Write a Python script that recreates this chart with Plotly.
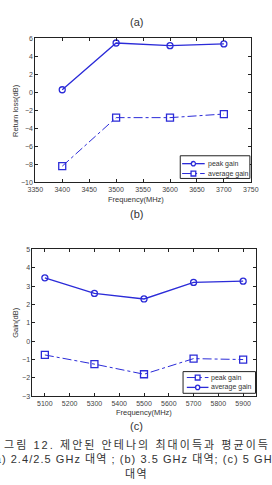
import plotly.graph_objects as go

# Chart (b) data
freq_b = [3400, 3500, 3600, 3700]
peak_b = [0.3, 5.5, 5.2, 5.4]
avg_b = [-8.2, -2.8, -2.8, -2.4]

# Chart (c) data
freq_c = [5100, 5300, 5500, 5700, 5900]
avg_c = [3.45, 2.6, 2.3, 3.2, 3.27]
peak_c = [-0.75, -1.25, -1.8, -0.95, -1.0]

legend_b = ["peak gain", "average gain"]
legend_c = ["peak gain", "average gain"]

blue = "#2b2bd8"
tick_col = "#444444"
W, H = 272, 485

def py(px):
    return 1 - px / H

def pxx(px):
    return px / W

fig = go.Figure()

solid = dict(color=blue, width=1.3)
dashed = dict(color=blue, width=1, dash="dashdot")
circ = dict(symbol="circle-open", size=6, color=blue, line=dict(width=1.3))
sq = dict(symbol="square-open", size=7, color=blue, line=dict(width=1.3))

fig.add_trace(go.Scatter(x=freq_b, y=peak_b, name=legend_b[0], mode="lines+markers",
                         line=solid, marker=circ, xaxis="x", yaxis="y"))
fig.add_trace(go.Scatter(x=freq_b, y=avg_b, name=legend_b[1], mode="lines+markers",
                         line=dashed, marker=sq, xaxis="x", yaxis="y"))
fig.add_trace(go.Scatter(x=freq_c, y=peak_c, name=legend_c[0], mode="lines+markers",
                         line=dashed, marker=sq, xaxis="x2", yaxis="y2"))
fig.add_trace(go.Scatter(x=freq_c, y=avg_c, name=legend_c[1], mode="lines+markers",
                         line=solid, marker=circ, xaxis="x2", yaxis="y2"))

axis_common = dict(showline=True, linecolor="#222222", linewidth=1, mirror="ticks",
                   ticks="inside", ticklen=3, tickcolor="#222222", showgrid=False, zeroline=False,
                   tickfont=dict(family="Liberation Sans, Arial", size=7, color=tick_col))

fig.update_layout(
    width=W, height=H, margin=dict(l=0, r=0, t=0, b=0),
    paper_bgcolor="white", plot_bgcolor="white", showlegend=False,
    xaxis=dict(domain=[pxx(29), pxx(258)], range=[3350, 3750], dtick=50, anchor="y", **axis_common),
    yaxis=dict(domain=[py(181), py(35)], range=[-10, 6], dtick=2, anchor="x", **axis_common),
    xaxis2=dict(domain=[pxx(26), pxx(263)], range=[5050, 5950], dtick=100, anchor="y2", **axis_common),
    yaxis2=dict(domain=[py(398), py(249)], range=[-3, 5], dtick=1, anchor="x2", **axis_common),
)

def ann(text, x, y, size, angle=0, color="#333333", xanchor="center"):
    fig.add_annotation(text=text, x=pxx(x), y=py(y), xref="paper", yref="paper",
                       showarrow=False, textangle=angle, xanchor=xanchor, yanchor="middle",
                       font=dict(family="Liberation Sans, Noto Sans CJK KR", size=size, color=color))

def rect(x0, y0, x1, y1, line_color, fill="white", width=1, dash=None):
    fig.add_shape(type="rect", xref="paper", yref="paper",
                  x0=pxx(x0), x1=pxx(x1), y0=py(y1), y1=py(y0),
                  line=dict(color=line_color, width=width, dash=dash), fillcolor=fill)

def seg(x0, x1, y, style):
    fig.add_shape(type="line", xref="paper", yref="paper",
                  x0=pxx(x0), x1=pxx(x1), y0=py(y), y1=py(y), line=style)

def circle(cx, cy, r):
    fig.add_shape(type="circle", xref="paper", yref="paper",
                  x0=pxx(cx - r), x1=pxx(cx + r), y0=py(cy + r), y1=py(cy - r),
                  line=dict(color=blue, width=1.3), fillcolor="white")

def square(cx, cy, r):
    rect(cx - r, cy - r, cx + r, cy + r, blue, width=1.3)

def legend_box(x0, y0, x1, y1, rows, names, lx0, lx1, tx):
    rect(x0, y0, x1, y1, "#222222")
    for (yy, kind), name in zip(rows, names):
        mx = (lx0 + lx1) / 2
        if kind == "solid":
            seg(lx0, lx1, yy, solid)
            circle(mx, yy, 2.2)
        else:
            seg(lx0, lx1, yy, dashed)
            square(mx, yy, 2.5)
        ann(name, tx, yy, 7, xanchor="left")

legend_box(183, 154, 257, 177, [(162, "solid"), (172, "dash")], legend_b, 185, 209, 210)
legend_box(186, 373, 263, 395, [(379, "dash"), (389, "solid")], legend_c, 190, 213, 214)

ann("(a)", 136, 18, 11)
ann("Frequency(MHz)", 136, 198, 7.5)
ann("(b)", 136, 213, 11)
ann("Return loss(dB)", 8, 108, 7.5, angle=-90)
ann("Gain(dB)", 8, 323, 7.5, angle=-90)
ann("Frequency(MHz)", 145, 414, 7.5)
ann("(c)", 136, 428, 11)

def spaced(t, sp):
    return '<span style="letter-spacing:%.2fpx">' % sp + t + '</span>'

ann(spaced("그림 12. 제안된 안테나의 최대이득과 평균이득", 2.05), 137, 447, 11)
ann(spaced("(a) 2.4/2.5 GHz 대역 ; (b) 3.5 GHz 대역; (c) 5 GHz", 1.05), 134, 462, 11)
ann(spaced("대역", 1.4), 136, 477, 11)

fig.write_html("out.html")
